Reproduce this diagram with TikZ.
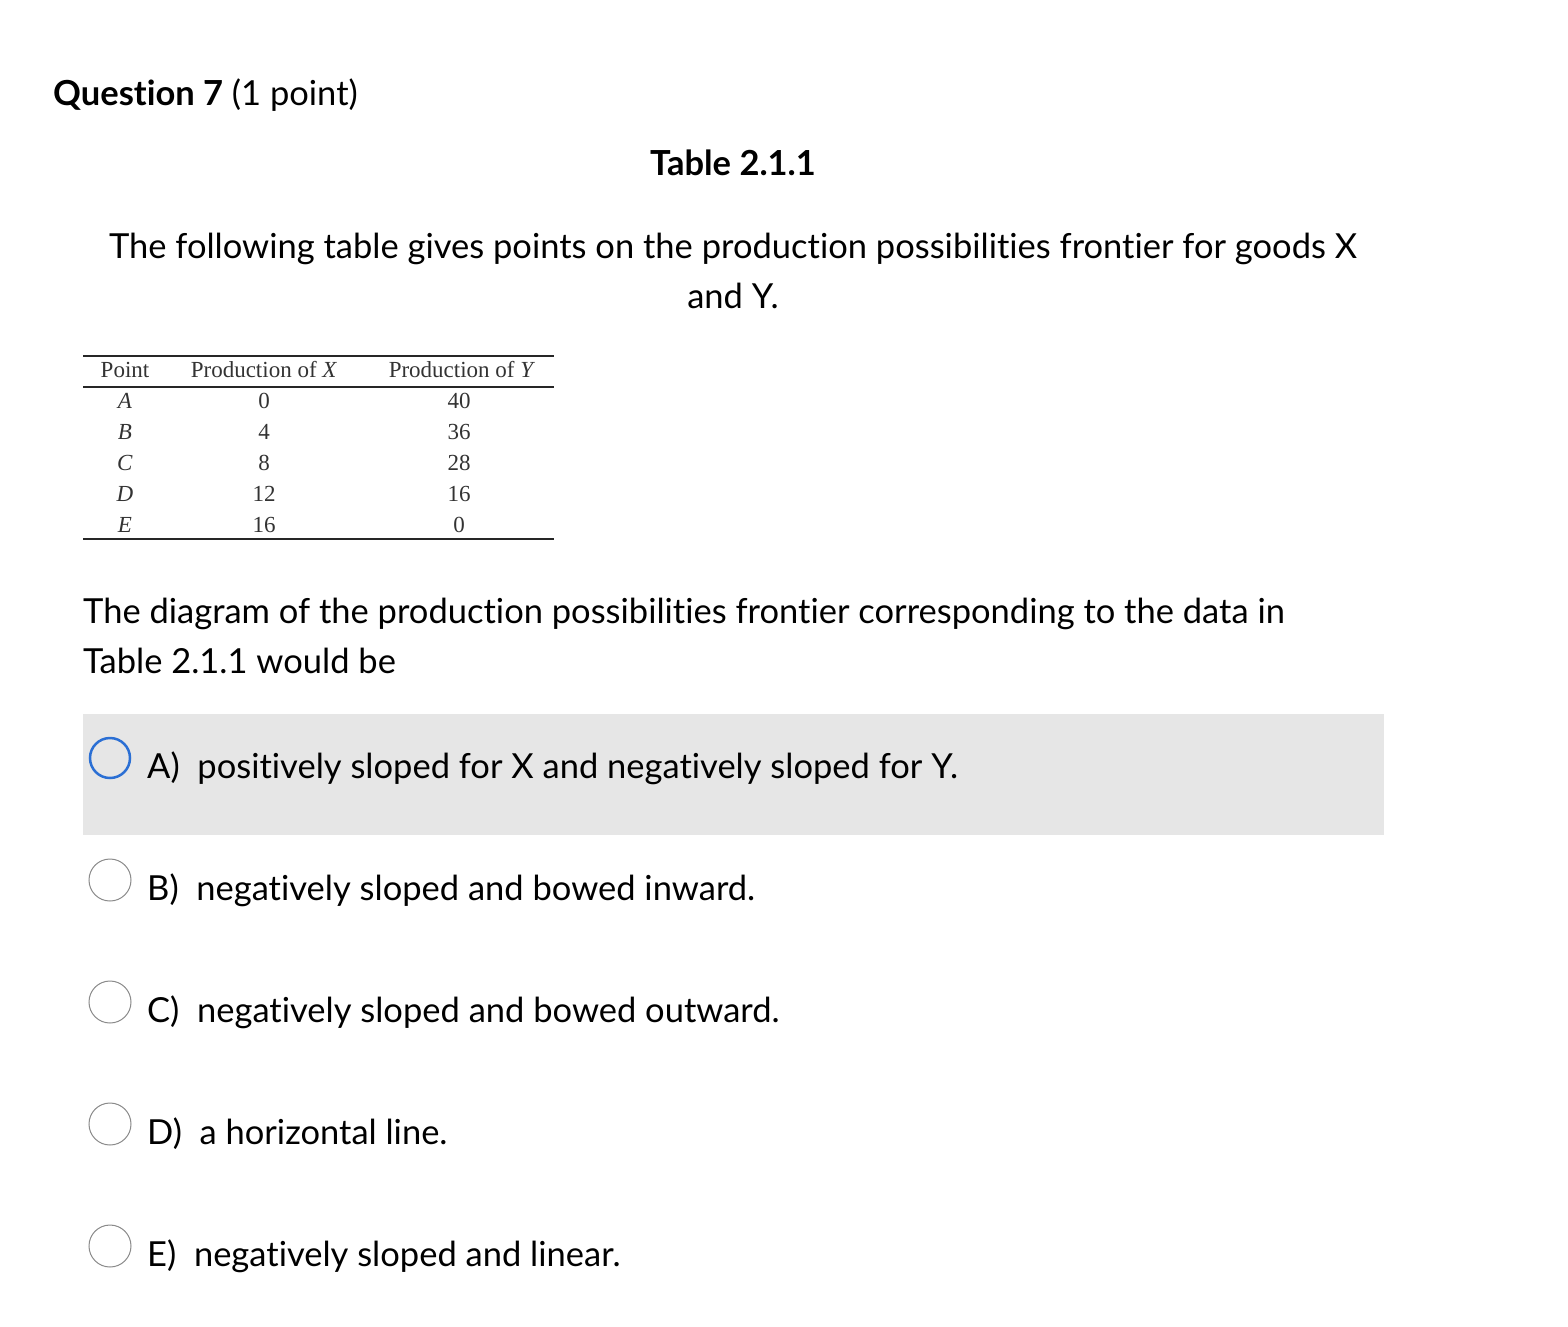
\documentclass[tikz,border=0pt]{standalone}
\usepackage{fontspec}
\setmainfont[RawFeature=-liga]{Lato}
\newfontfamily\tabfont{Liberation Serif}
\definecolor{greybox}{HTML}{E6E6E6}
\definecolor{radioblue}{HTML}{2B6FD4}
\definecolor{radiogrey}{HTML}{8A8A8A}
\begin{document}
\begin{tikzpicture}[x=1pt,y=-1pt,
  body/.style={anchor=base west,inner sep=0,font=\fontsize{34.5}{40}\selectfont},
  bodyc/.style={anchor=base,inner sep=0,font=\fontsize{34.5}{40}\selectfont},
  tcell/.style={anchor=base,inner sep=0,font=\tabfont\fontsize{23}{26}\selectfont,text=black!80},
  radio/.style={circle,draw=radiogrey,line width=1pt,minimum size=42pt,inner sep=0}]
\useasboundingbox (0,0) rectangle (1568,1326);
\node[body] (q) at (53,105) {\textbf{Question 7} (1 point)};
\node[bodyc] (tt) at (733,175) {\textbf{Table 2.1.1}};
\node[bodyc] (p1) at (733,258) {The following table gives points on the production possibilities frontier for goods X};
\node[bodyc] (p2) at (733,308) {and Y.};
% table
\draw[line width=1.3pt,black!85] (83,356) -- (554,356);
\draw[line width=2pt,black!85] (83,386.5) -- (554,386.5);
\draw[line width=1.5pt,black!85] (83,539) -- (554,539);
\node[tcell] (h1) at (125,377) {Point};
\node[tcell] (h2) at (264,377) {Production of \textit{X}};
\node[tcell] (h3) at (462,377) {Production of \textit{Y}};
\foreach \p/\x/\yv [count=\i] in {A/0/40,B/4/36,C/8/28,D/12/16,E/16/0}{
  \pgfmathsetmacro\yy{377+31*\i}
  \node[tcell] (r\i a) at (125,\yy) {\textit{\p}};
  \node[tcell] (r\i b) at (264,\yy) {\x};
  \node[tcell] (r\i c) at (459,\yy) {\yv};
}
\node[body] (d1) at (83,623) {The diagram of the production possibilities frontier corresponding to the data in};
\node[body] (d2) at (83,673) {Table 2.1.1 would be};
\fill[greybox] (83,714) rectangle (1384,835);
\node[radio,draw=radioblue,line width=2.5pt,minimum size=40pt] (ca) at (110,758) {};
\node[body] (ta) at (147,778) {A)\ \ positively sloped for X and negatively sloped for Y.};
\node[radio] (cb) at (110,880) {};
\node[body] (tb) at (147,900) {B)\ \ negatively sloped and bowed inward.};
\node[radio] (cc) at (110,1002) {};
\node[body] (tc) at (147,1022) {C)\ \ negatively sloped and bowed outward.};
\node[radio] (cd) at (110,1124) {};
\node[body] (td) at (147,1144) {D)\ \ a horizontal line.};
\node[radio] (ce) at (110,1246) {};
\node[body] (te) at (147,1266) {E)\ \ negatively sloped and linear.};
\end{tikzpicture}
\end{document}
